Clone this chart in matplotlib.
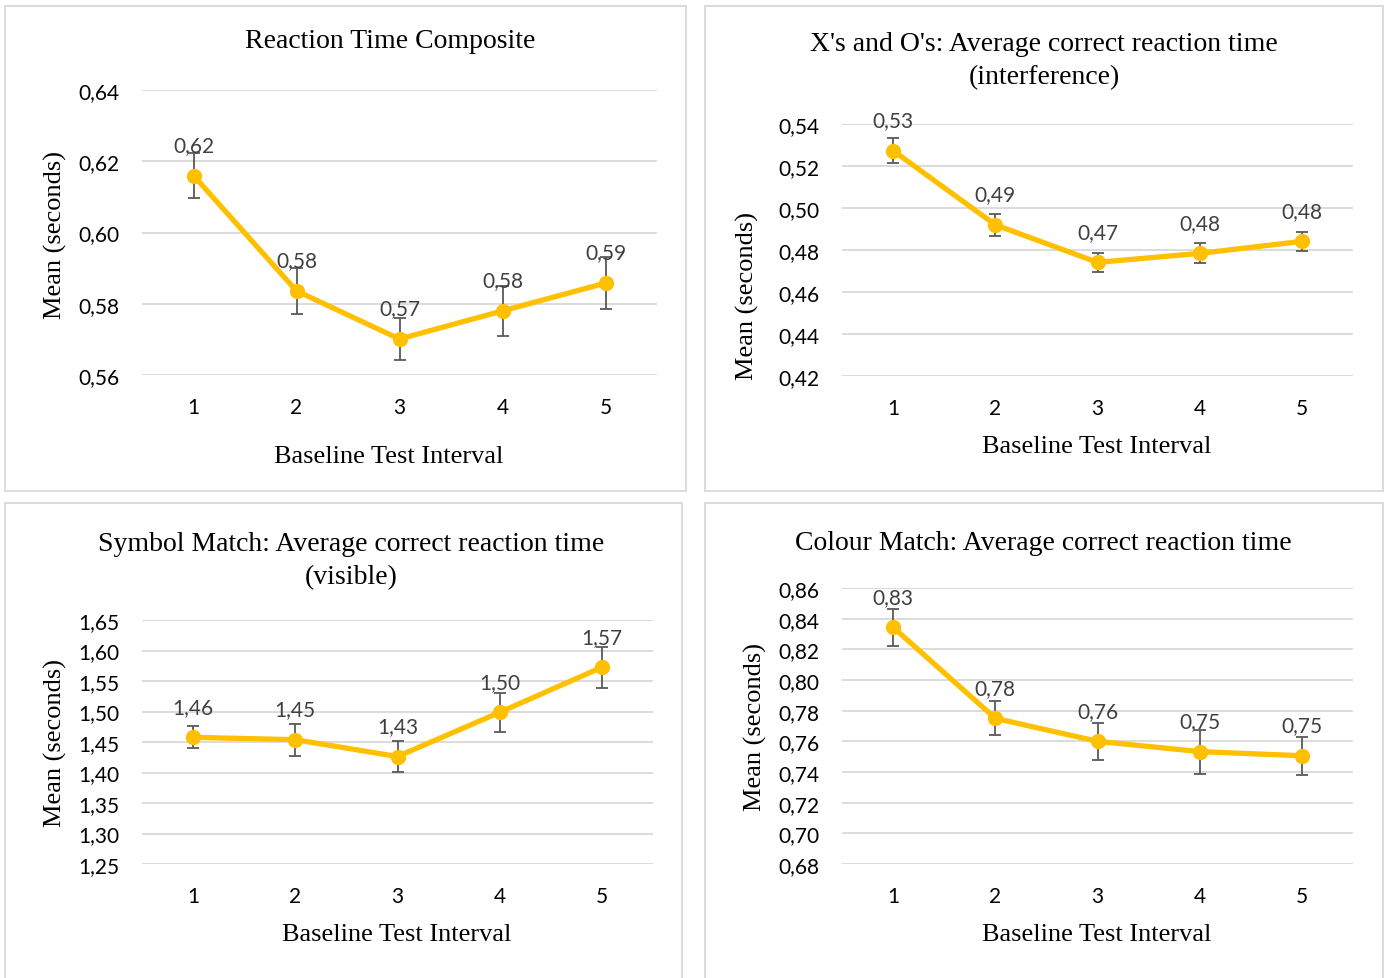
import matplotlib.pyplot as plt
from matplotlib.patches import Rectangle
from matplotlib.ticker import FuncFormatter

W, H = 1389, 979

intervals = [1, 2, 3, 4, 5]

rt_composite = [0.616, 0.5836, 0.5701, 0.578, 0.5858]
rt_composite_err = [0.0062, 0.0065, 0.006, 0.007, 0.0073]

xo_interference = [0.5273, 0.4920, 0.4741, 0.4784, 0.4841]
xo_interference_err = [0.006, 0.0053, 0.0044, 0.0048, 0.0045]

symbol_visible = [1.4577, 1.4538, 1.4262, 1.4987, 1.5725]
symbol_visible_err = [0.018, 0.026, 0.026, 0.032, 0.034]

colour_match = [0.8344, 0.775, 0.760, 0.7533, 0.7506]
colour_match_err = [0.012, 0.011, 0.012, 0.0143, 0.0125]

titles = ["Reaction Time Composite",
          "X's and O's: Average correct reaction time\n(interference)",
          "Symbol Match: Average correct reaction time\n(visible)",
          "Colour Match: Average correct reaction time"]

SERIF = "Liberation Serif"
SANS = "Lato"
LINE = "#FFC000"
GRID = "#D9D9D9"


def comma(v, pos=None):
    return f"{v:.2f}".replace(".", ",")


# pixel layout of each panel: box, plot area, y range, label positions
panels = [
    dict(vals=rt_composite, err=rt_composite_err, title=titles[0],
         box=(5, 7, 686, 492), area=(142, 91, 657, 376),
         ylim=(0.56, 0.64), step=0.02,
         title_xy=(390, 42), ylab_xy=(55, 235), xlab_xy=(389, 457)),
    dict(vals=xo_interference, err=xo_interference_err, title=titles[1],
         box=(705, 7, 1383, 492), area=(842, 125, 1353, 377),
         ylim=(0.42, 0.54), step=0.02,
         title_xy=(1044, 61), ylab_xy=(747, 296), xlab_xy=(1097, 447)),
    dict(vals=symbol_visible, err=symbol_visible_err, title=titles[2],
         box=(5, 504, 682, 990), area=(142, 621, 653, 865),
         ylim=(1.25, 1.65), step=0.05,
         title_xy=(351, 561), ylab_xy=(55, 743), xlab_xy=(397, 935)),
    dict(vals=colour_match, err=colour_match_err, title=titles[3],
         box=(705, 504, 1383, 990), area=(842, 589, 1353, 865),
         ylim=(0.68, 0.86), step=0.02,
         title_xy=(1043, 543), ylab_xy=(755, 727), xlab_xy=(1097, 935)),
]

fig = plt.figure(figsize=(W / 100, H / 100), dpi=100)

for p in panels:
    bx0, by0, bx1, by1 = p["box"]
    fig.add_artist(Rectangle((bx0 / W, 1 - by1 / H), (bx1 - bx0) / W, (by1 - by0) / H,
                             transform=fig.transFigure, fill=False,
                             edgecolor=GRID, linewidth=1.3))

    x0, y0, x1, y1 = p["area"]
    ax = fig.add_axes([x0 / W, 1 - y1 / H, (x1 - x0) / W, (y1 - y0) / H])

    ax.errorbar(intervals, p["vals"], yerr=p["err"], fmt="none",
                ecolor="#595959", elinewidth=1.3, capsize=4, capthick=1.3, zorder=2)
    ax.plot(intervals, p["vals"], color=LINE, linewidth=3.8, marker="o",
            markersize=10, zorder=3)
    for x, v in zip(intervals, p["vals"]):
        ax.annotate(comma(v), (x, v), xytext=(0, 22), textcoords="offset points",
                    ha="center", va="center", fontsize=15, family=SANS, color="#404040")

    lo, hi = p["ylim"]
    n = round((hi - lo) / p["step"])
    ax.set_ylim(lo, hi)
    ax.set_yticks([lo + i * p["step"] for i in range(n + 1)])
    ax.yaxis.set_major_formatter(FuncFormatter(comma))
    ax.set_xlim(0.5, 5.5)
    ax.set_xticks(intervals)

    ax.grid(axis="y", color=GRID, linewidth=1.3)
    ax.set_axisbelow(True)
    for s in ax.spines.values():
        s.set_visible(False)
    ax.tick_params(length=0, labelsize=15, colors="#000000")
    ax.tick_params(axis="y", pad=16)
    ax.tick_params(axis="x", pad=16)
    for lab in ax.get_xticklabels() + ax.get_yticklabels():
        lab.set_family(SANS)

    fig.text(p["title_xy"][0] / W, 1 - p["title_xy"][1] / H, p["title"],
             ha="center", va="center", fontsize=20, family=SERIF,
             linespacing=1.38)
    fig.text(p["ylab_xy"][0] / W, 1 - p["ylab_xy"][1] / H, "Mean (seconds)",
             ha="center", va="center", rotation=90, fontsize=19, family=SERIF)
    fig.text(p["xlab_xy"][0] / W, 1 - p["xlab_xy"][1] / H, "Baseline Test Interval",
             ha="center", va="center", fontsize=19, family=SERIF)

fig.savefig("out.png", dpi=100)
